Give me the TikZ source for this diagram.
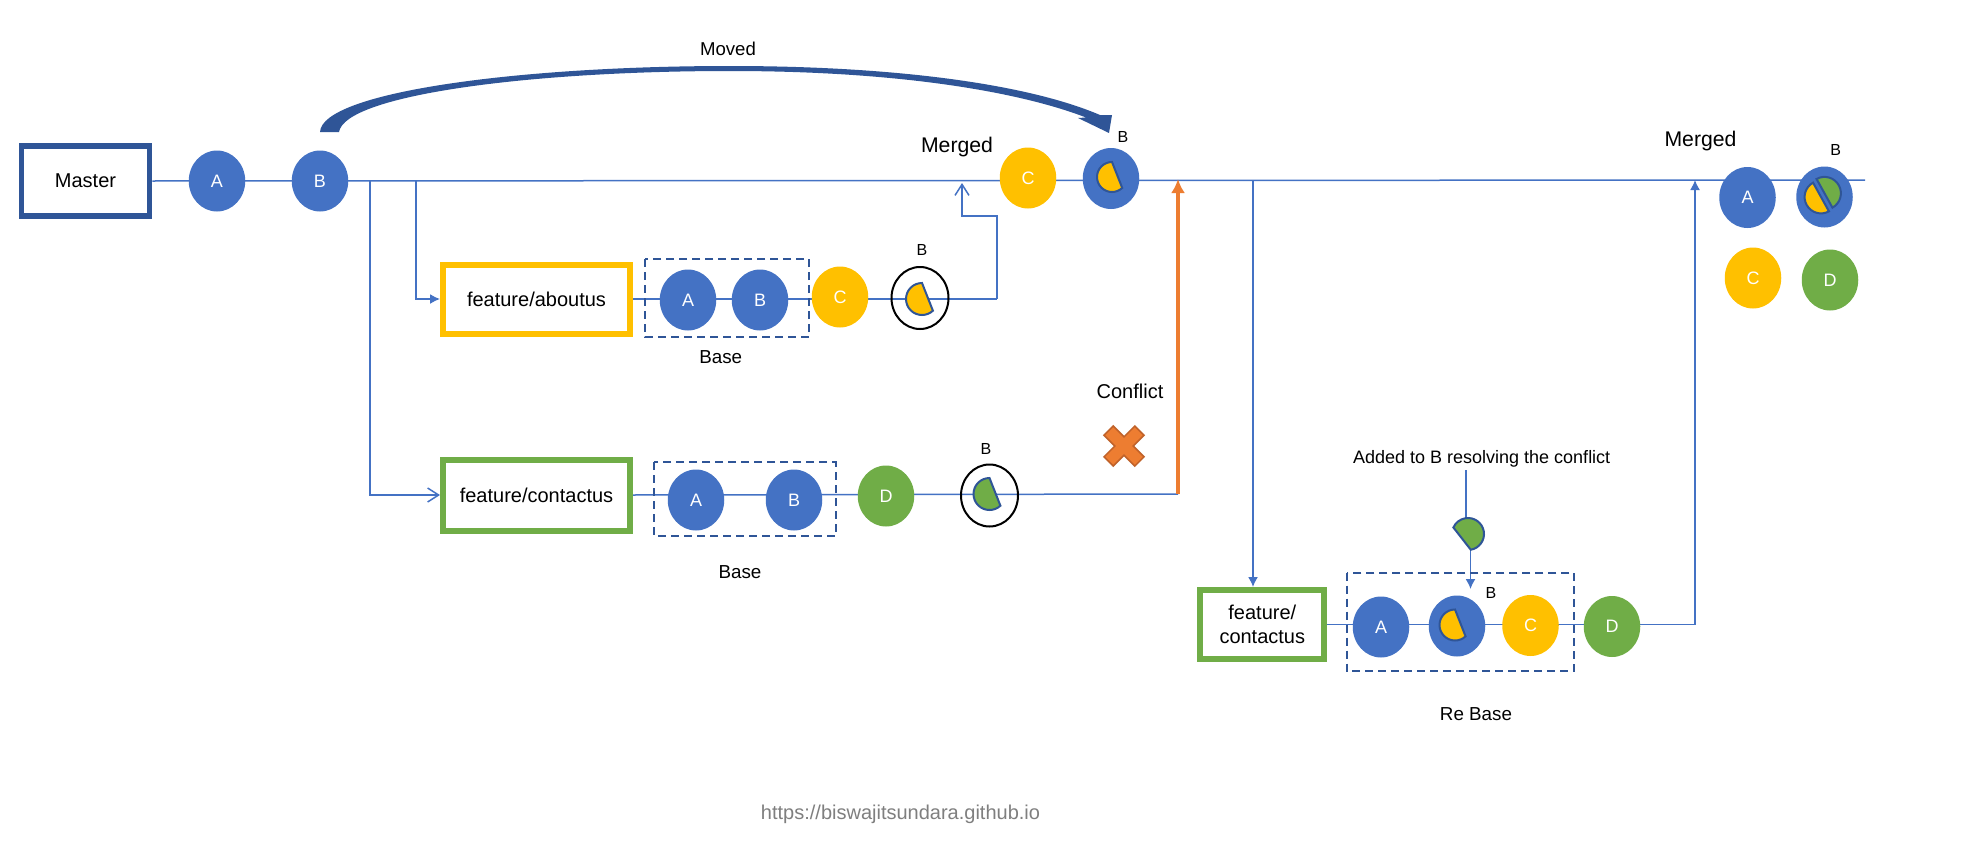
\documentclass[tikz,border=0pt]{standalone}
\usepackage{fontspec}
\setmainfont{Liberation Sans}
\usetikzlibrary{shapes.geometric,arrows.meta,backgrounds}

\definecolor{cblue}{HTML}{4472C4}
\definecolor{cdark}{HTML}{2F5597}
\definecolor{cgold}{HTML}{FFC000}
\definecolor{cgreen}{HTML}{70AD47}
\definecolor{corange}{HTML}{ED7D31}
\definecolor{coredge}{HTML}{C0622A}
\definecolor{cgrey}{HTML}{7F7F7F}

% part of a commit that was changed: centre, colour, start, end, radius
\newcommand{\piece}[5]{\draw[piece, fill=#2] (#1) ++(#3:#5) arc (#3:#4:#5) -- cycle;}

\begin{document}
\begin{tikzpicture}[x=0.5pt,y=0.5pt,
  commit/.style={ellipse, inner sep=0pt, minimum width=28.25pt, minimum height=30.5pt, text=white, font=\fontsize{9}{10}\selectfont},
  bluec/.style={commit, fill=cblue},
  goldc/.style={commit, fill=cgold},
  greenc/.style={commit, fill=cgreen},
  ringc/.style={commit, draw=black, line width=1pt, minimum width=28.5pt, minimum height=31pt},
  branch/.style={draw, line width=3pt, fill=white, inner sep=0pt, align=center, font=\fontsize{10}{12.25}\selectfont},
  lbl/.style={inner sep=0pt, font=\fontsize{9.4}{11}\selectfont},
  blbl/.style={inner sep=0pt, font=\fontsize{8}{10}\selectfont},
  link/.style={draw=cblue, line width=0.75pt},
  base/.style={draw=cdark, line width=1pt, dash pattern=on 4pt off 2.5pt},
  piece/.style={draw=cdark, line width=1pt},
  fillhead/.style={-{Latex[length=5pt,width=5pt]}},
  openhead/.style={-{Straight Barb[length=5.5pt,width=7pt]}},
]
\useasboundingbox (0,0) rectangle (1972,-867);

% master
\node[branch, draw=cdark, line width=2.75pt, minimum width=64pt, minimum height=35pt] (master) at (85.5,-181) {Master};
\node[bluec] (a0) at (217,-181) {A};
\node[bluec] (b0) at (320,-181) {B};
\node[goldc] (c0) at (1028,-178) {C};
\node[bluec] (b0m) at (1111,-178.5) {};
\node[blbl] (b0mlbl) at (1123,-136.5) {B};
\node[lbl, font=\fontsize{9.3}{11}\selectfont] (moved) at (728,-48.6) {Moved};
\node[lbl, font=\fontsize{10.6}{12}\selectfont] (merged1) at (957,-147) {Merged};

% feature/aboutus
\node[branch, draw=cgold, minimum width=93.5pt, minimum height=34.5pt] (about) at (536.5,-299) {feature/aboutus};
\node[bluec] (a1) at (688,-300) {A};
\node[bluec] (b1) at (760,-300) {B};
\node[goldc] (c1) at (840,-297) {C};
\node[ringc] (b1r) at (920,-298) {};
\node[blbl] (b1lbl) at (922,-249.5) {B};
\draw[base] (645,-259) rectangle (809,-337);
\node[lbl] (base1) at (720.7,-356.7) {Base};

% feature/contactus
\node[branch, draw=cgreen, minimum width=93.5pt, minimum height=35.5pt] (contact) at (536.5,-495) {feature/contactus};
\node[bluec] (a2) at (696,-500) {A};
\node[bluec] (b2) at (794,-500) {B};
\node[greenc] (d2) at (886,-496) {D};
\node[ringc] (b2r) at (989.5,-495.5) {};
\node[blbl] (b2lbl) at (986,-448.5) {B};
\draw[base] (654,-462) rectangle (835.5,-536);
\node[lbl] (base2) at (740,-572) {Base};
\node[lbl, font=\fontsize{10}{12}\selectfont] (conflict) at (1130,-391) {Conflict};

% re base
\node[branch, draw=cgreen, minimum width=62pt, minimum height=34.5pt] (contact2) at (1262.3,-624.5) {feature/\\contactus};
\node[bluec] (a3) at (1381,-627) {A};
\node[bluec] (b3) at (1457,-626) {};
\node[goldc] (c3) at (1530.5,-625.5) {C};
\node[greenc] (d3) at (1612,-626.5) {D};
\node[blbl] (b3lbl) at (1491,-593) {B};
\draw[base] (1346.5,-572.6) rectangle (1574,-671);
\node[lbl] (rebase) at (1476,-714) {Re Base};
\node[lbl, font=\fontsize{9}{11}\selectfont] (added) at (1481.7,-459) {Added to B resolving the conflict};

% merged result
\node[lbl, font=\fontsize{10.6}{12}\selectfont] (merged2) at (1700.5,-141.5) {Merged};
\node[bluec] (a4) at (1747.5,-197.5) {A};
\node[bluec] (b4) at (1824.5,-197) {};
\node[blbl] (b4lbl) at (1835.7,-150.4) {B};
\node[goldc] (c4) at (1753,-278) {C};
\node[greenc] (d4) at (1830,-280) {D};

\node[inner sep=0pt, text=cgrey, font=\fontsize{10}{12}\selectfont] (url) at (900.5,-814) {https://biswajitsundara.github.io};

\coordinate (mainend) at (1865,-180);
\coordinate (fork1) at (370,-180);
\coordinate (fork2) at (416,-180);
\coordinate (fork3) at (1253,-180);
\coordinate (turn1) at (997,-299);
\coordinate (bend1) at (962,-216);
\coordinate (merge1) at (962,-183);
\coordinate (conf) at (1178,-494);
\coordinate (conftop) at (1178,-179);
\coordinate (turn3) at (1695,-624.5);
\coordinate (merge3) at (1695,-180);
\coordinate (fixtop) at (1466,-470);
\coordinate (fixin) at (1466,-518);
\coordinate (fixout) at (1470.5,-550);
\coordinate (fixend) at (1470.5,-589);

\begin{pgfonlayer}{background}
\fill[white] (0,0) rectangle (1972,-867);
\draw[link] (master.east) -- (mainend);
\draw[link, openhead] (fork1) |- (contact.west);
\draw[link, fillhead] (fork2) |- (about.west);
\draw[link] (about.east) -- (turn1);
\draw[link, openhead] (turn1) |- (bend1) -- (merge1);
\draw[link] (contact.east) -- (conf);
\draw[link, fillhead] (fork3) -- (fork3 |- contact2.north);
\draw[link] (contact2.east) -- (turn3);
\draw[link, fillhead] (turn3) -- (merge3);
\draw[link] (fixtop) -- (fixin);
\draw[link, fillhead] (fixout) -- (fixend);
\end{pgfonlayer}

% conflict
\draw[corange, line width=2pt, -{Latex[length=7pt,width=7pt]}] (conf) -- (conftop);
\draw[fill=corange, draw=coredge, line width=0.75pt, shift={(1124,-446)}]
  (0,9.2) -- (-10.8,20) -- (-20,10.8) -- (-9.2,0) -- (-20,-10.8) -- (-10.8,-20)
  -- (0,-9.2) -- (10.8,-20) -- (20,-10.8) -- (9.2,0) -- (20,10.8) -- (10.8,20) -- cycle;

% moved arrow
\fill[cdark] (320,-132) .. controls (322,-92) and (520,-66) .. (730,-66)
  .. controls (900,-66) and (1030,-85) .. (1100,-115)
  -- (1112,-115) -- (1109,-133) -- (1078,-118) -- (1086,-117.5)
  .. controls (1020,-92) and (900,-71) .. (730,-71)
  .. controls (530,-71) and (345,-95) .. (339,-132) -- cycle;

% changed parts of B
\piece{1112,-177}{cgold}{90}{313}{15}
\piece{922,-299}{cgold}{90}{313}{16}
\piece{989.5,-494}{cgreen}{90}{313}{16}
\piece{1455,-625}{cgold}{90}{313}{15.5}
\piece{1468,-534}{cgreen}{-80}{156}{16}
\piece{1821,-197}{cgold}{119}{299}{16.4}
\piece{1824.5,-193.3}{cgreen}{-61}{119}{16.4}

\end{tikzpicture}
\end{document}
